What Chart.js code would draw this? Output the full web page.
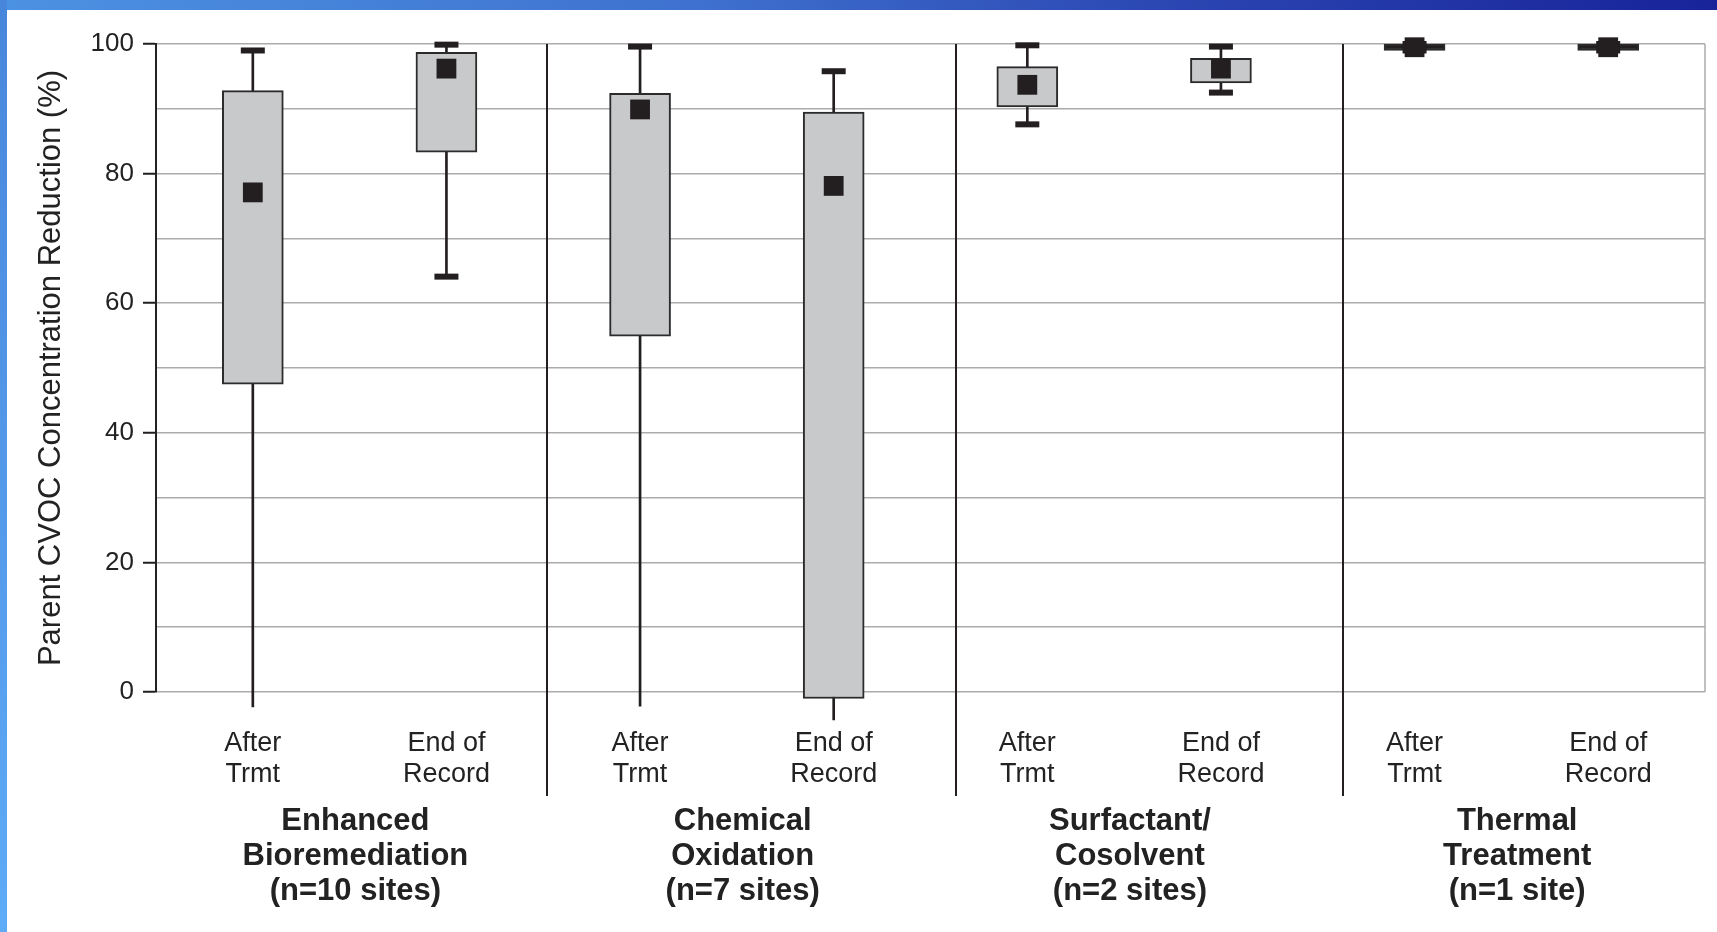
<!DOCTYPE html>
<html>
<head>
<meta charset="utf-8">
<script src="https://cdn.jsdelivr.net/npm/chart.js@4.4.1/dist/chart.umd.min.js"></script>
<style>
    html, body { margin: 0; padding: 0; background: #fff; overflow: hidden; }
    #wrap { position: relative; width: 1717px; height: 932px; }
    #faixaTopo { position: absolute; left: 0; top: 0; width: 1717px; height: 10px; z-index: 2;
        background: linear-gradient(to right, #4c92e2, #3f72d0 40%, #2a44b0 70%, #18239a); }
    #faixaEsq { position: absolute; left: 0; top: 0; width: 7px; height: 932px; z-index: 2;
        background: linear-gradient(to bottom, #4886dc, #5eabf7); }
    canvas { position: absolute; left: 0; top: 0; }
</style>
</head>
<body>
<div id="wrap">
    <div id="faixaTopo"></div>
    <div id="faixaEsq"></div>
    <canvas id="grafico" width="1717" height="932"></canvas>
</div>
<script>
const categorias = [
    ['After', 'Trmt'], ['End of', 'Record'],
    ['After', 'Trmt'], ['End of', 'Record'],
    ['After', 'Trmt'], ['End of', 'Record'],
    ['After', 'Trmt'], ['End of', 'Record']
];
const grupos = [
    ['Enhanced', 'Bioremediation', '(n=10 sites)'],
    ['Chemical', 'Oxidation', '(n=7 sites)'],
    ['Surfactant/', 'Cosolvent', '(n=2 sites)'],
    ['Thermal', 'Treatment', '(n=1 site)']
];

// box plot values (%)
const minimo = [-2.3, 64.1, -2.2, -4.3, 87.6, 92.5, 99.0, 99.0];
const q1     = [47.5, 83.3, 54.9, -1.0, 90.3, 94.0, 99.0, 99.0];
const q3     = [92.8, 98.7, 92.4, 89.5, 96.5, 97.8, 100.0, 100.0];
const maximo = [99.0, 99.9, 99.6, 95.8, 99.8, 99.6, 100.0, 100.0];
const media  = [77.1, 96.2, 89.9, 78.1, 93.7, 96.2, 99.5, 99.5];

// separators between treatment groups and group label centres (category units)
const divisores = [1.52, 3.63, 5.63];
const centroGrupos = [0.53, 2.53, 4.53, 6.53];

const ticksY = [0, 20, 40, 60, 80, 100];

const preto = '#231f20';
const cinzaGrade = '#ababab';
const fonte = '"Liberation Sans", Arial, sans-serif';

const capsInferiores = minimo.map(v => v >= 0 ? v : null);

const pluginGrupos = {
    id: 'grupos',
    beforeDatasetsDraw(chart) {
        const { ctx, chartArea, scales } = chart;
        ctx.save();
        // right frame of the plot
        ctx.strokeStyle = cinzaGrade;
        ctx.lineWidth = 1.5;
        ctx.beginPath();
        ctx.moveTo(chartArea.right, chartArea.top);
        ctx.lineTo(chartArea.right, chartArea.bottom);
        ctx.stroke();

        ctx.strokeStyle = preto;
        ctx.lineWidth = 2;
        divisores.forEach(d => {
            const x = Math.round(scales.x.getPixelForValue(d));
            ctx.beginPath();
            ctx.moveTo(x, chartArea.top);
            ctx.lineTo(x, chartArea.bottom + 104);
            ctx.stroke();
        });
        ctx.restore();
    },
    afterDraw(chart) {
        const { ctx, chartArea, scales } = chart;
        ctx.save();
        ctx.fillStyle = '#222';
        ctx.font = 'bold 31px ' + fonte;
        ctx.textAlign = 'center';
        ctx.textBaseline = 'middle';
        grupos.forEach((linhas, g) => {
            const x = scales.x.getPixelForValue(centroGrupos[g]);
            linhas.forEach((t, k) => {
                ctx.fillText(t, x, chartArea.bottom + 129 + k * 35);
            });
        });
        ctx.restore();
    }
};

const chart = new Chart(document.getElementById('grafico'), {
    data: {
        labels: categorias,
        datasets: [
            {
                type: 'line',
                label: 'Média',
                data: media,
                showLine: false,
                pointStyle: 'rect',
                pointRadius: 14,
                pointBackgroundColor: preto,
                pointBorderWidth: 0,
                clip: false,
                order: 0
            },
            {
                type: 'line',
                label: 'Máximo',
                data: maximo,
                showLine: false,
                pointStyle: 'line',
                pointRadius: 12,
                pointBorderColor: preto,
                pointBorderWidth: 6,
                clip: false,
                order: 1
            },
            {
                type: 'line',
                label: 'Mínimo',
                data: capsInferiores,
                showLine: false,
                pointStyle: 'line',
                pointRadius: 12,
                pointBorderColor: preto,
                pointBorderWidth: 6,
                clip: false,
                order: 1
            },
            {
                type: 'bar',
                label: 'Quartis',
                data: q1.map((v, i) => [v, q3[i]]),
                barThickness: 61,
                grouped: false,
                // a box too thin to show its fill is drawn solid
                backgroundColor: c => (q3[c.dataIndex] - q1[c.dataIndex] < 2 ? preto : '#c8c9cb'),
                borderColor: '#2b2b2b',
                borderWidth: 2,
                borderSkipped: false,
                clip: false,
                order: 2
            },
            {
                type: 'bar',
                label: 'Hastes',
                data: minimo.map((v, i) => [v, maximo[i]]),
                barThickness: 2,
                grouped: false,
                backgroundColor: preto,
                borderWidth: 0,
                clip: false,
                order: 3
            }
        ]
    },
    options: {
        responsive: false,
        animation: false,
        devicePixelRatio: 1,
        events: [],
        layout: {
            autoPadding: false,
            padding: { top: 44, right: 12, left: 0, bottom: 0 }
        },
        plugins: {
            legend: { display: false },
            tooltip: { enabled: false }
        },
        scales: {
            x: {
                type: 'category',
                offset: true,
                grid: { display: false, drawTicks: false },
                border: { display: false },
                ticks: {
                    color: '#222',
                    padding: 36,
                    maxRotation: 0,
                    autoSkip: false,
                    font: { family: fonte, size: 27, lineHeight: 1.15 }
                },
                afterFit(scale) {
                    scale.height = 240;
                    scale.paddingLeft = 0;
                    scale.paddingRight = 0;
                }
            },
            y: {
                min: 0,
                max: 100,
                afterBuildTicks(scale) {
                    const t = [];
                    for (let v = 0; v <= 100; v += 10) t.push({ value: v });
                    scale.ticks = t;
                },
                grid: {
                    color: cinzaGrade,
                    lineWidth: 1.5,
                    tickLength: 13,
                    tickWidth: 2,
                    tickColor: c => (ticksY.includes(c.tick.value) ? preto : 'rgba(0,0,0,0)')
                },
                border: { color: '#222', width: 2 },
                ticks: {
                    color: '#222',
                    padding: 9,
                    font: { family: fonte, size: 26 },
                    callback: v => (ticksY.includes(v) ? String(v) : '')
                },
                title: {
                    display: true,
                    text: 'Parent CVOC Concentration Reduction (%)',
                    color: '#222',
                    font: { family: fonte, size: 31 },
                    padding: { top: 33, bottom: 0 }
                },
                afterFit(scale) { scale.width = 156; }
            }
        }
    },
    plugins: [pluginGrupos]
});
</script>
</body>
</html>
